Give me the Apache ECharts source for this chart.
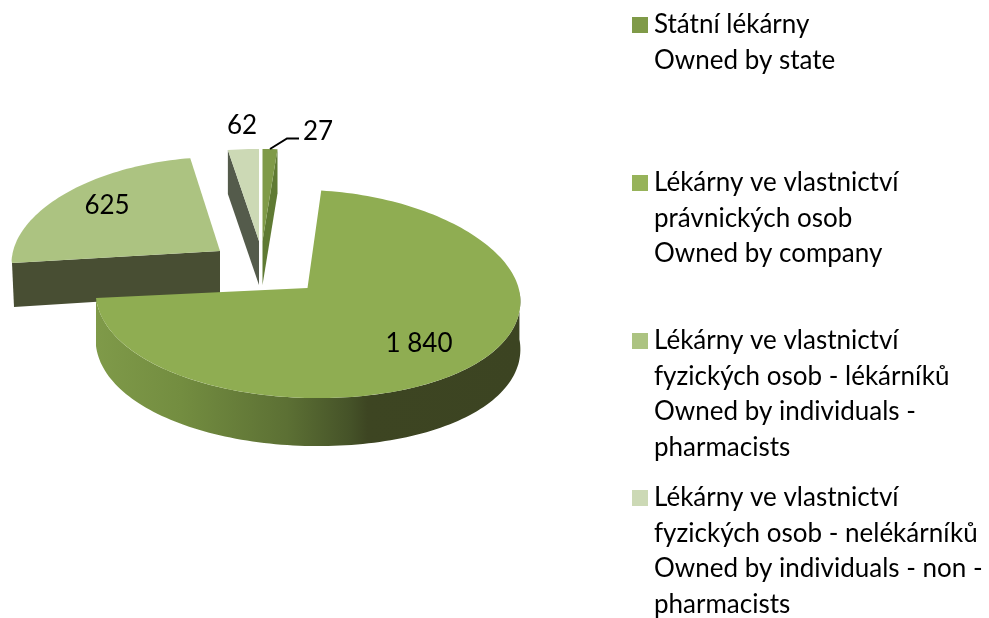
<!DOCTYPE html>
<html>
<head>
<meta charset="utf-8">
<style>html,body{margin:0;padding:0;background:#fff}#c{width:989px;height:618px}</style>
<script src="https://cdn.jsdelivr.net/npm/echarts@6/dist/echarts.min.js"></script>
</head>
<body>
<div id="c"></div>
<script>
var categories = [
  'Státní lékárny\nOwned by state',
  'Lékárny ve vlastnictví\nprávnických osob\nOwned by company',
  'Lékárny ve vlastnictví\nfyzických osob - lékárníků\nOwned by individuals -\npharmacists',
  'Lékárny ve vlastnictví\nfyzických osob - nelékárníků\nOwned by individuals - non -\npharmacists'
];
var values = [27, 1840, 625, 62];
var topColors = ['#7f9a48', '#8fad52', '#acc381', '#ccd9b5'];
var legendColors = ['#7f9a48', '#97b35a', '#acc381', '#ccd9b5'];
var wallColors = ['#5f7a33', '#3d4522', '#484e33', '#545b4b'];

// Exploded slices of the tilted pie: each has its own apex, ellipse and perspective.
var layouts = [
  {ax:262.5, ay:241, cx:262.5, cy:241, rx:226, back:92,  front:92,  k:0,   tilt:0, depth:44, lx:318, ly:131},
  {ax:307.5, ay:288, cx:308,   cy:290, rx:212, back:100, front:108, k:.06, tilt:5, depth:48, lx:419, ly:343},
  {ax:220,   ay:251, cx:220,   cy:257, rx:208, back:100, front:50,  k:.06, tilt:0, depth:43, lx:107, ly:205},
  {ax:259,   ay:241, cx:259,   cy:241, rx:205, back:92,  front:92,  k:0,   tilt:0, depth:44, lx:242, ly:125}
];
var legendCenters = [25, 183, 341, 498];
var LINE = 35.4, FONT = 'Lato', SIZE = 26;
var total = values.reduce(function (a, b) { return a + b; }, 0);

function pt(l, deg) {
  var t = deg * Math.PI / 180, s = Math.sin(t), c = Math.cos(t);
  return [l.cx + l.rx * s * (1 - l.k * c), l.cy - (c > 0 ? l.back : l.front) * c + l.tilt * s];
}
function arc(l, a, b) {
  var out = [], n = Math.max(2, Math.ceil(Math.abs(b - a) / 1.5));
  for (var i = 0; i <= n; i++) out.push(pt(l, a + (b - a) * i / n));
  return out;
}
function down(p, d) { return [p[0], p[1] + d]; }
function fmt(v) { return String(v).replace(/\B(?=(\d{3})+$)/g, ' '); }

var bigWall = {
  type: 'linear', x: 0, y: 0, x2: 1, y2: 0,
  colorStops: [
    {offset: 0, color: '#7f9a49'}, {offset: .2, color: '#738d40'},
    {offset: .45, color: '#5c7034'}, {offset: .6, color: '#455228'},
    {offset: .64, color: '#3d4522'}, {offset: 1, color: '#3c4422'}
  ]
};

function renderSlice(params, api) {
  var i = params.seriesIndex, l = layouts[i], v = api.value(0);
  var before = values.slice(0, i).reduce(function (a, b) { return a + b; }, 0);
  var a0 = before / total * 360, a1 = (before + v) / total * 360;
  var A = [l.ax, l.ay], d = l.depth, rim = arc(l, a0, a1), kids = [];
  function poly(points, fill) {
    kids.push({type: 'polygon', shape: {points: points}, style: {fill: fill}, silent: true});
  }
  if (i === 0) { // wall on the trailing radial edge
    var e = rim[rim.length - 1];
    poly([e, down(e, d), down(A, d), A], wallColors[0]);
  } else if (i === 3) { // wall on the leading radial edge
    var s = rim[0];
    poly([s, down(s, d), down(A, d), A], wallColors[3]);
  } else if (i === 2) { // cut face towards the viewer
    var s2 = rim[0];
    poly([s2, [s2[0] + 2, s2[1] + d + 1], down(A, d), A], wallColors[2]);
  } else { // curved outer wall
    var front = arc(l, Math.max(a0, 88), a1);
    poly(front.concat(front.slice().reverse().map(function (p) { return down(p, d); })), bigWall);
  }
  poly([A].concat(rim), topColors[i]);
  return {type: 'group', children: kids};
}

function renderLabels(params, api) {
  var kids = values.map(function (v, i) {
    return {type: 'text', silent: true, x: layouts[i].lx, y: layouts[i].ly + 1,
      style: {text: fmt(v), font: SIZE + 'px ' + FONT, fill: '#000', align: 'center', verticalAlign: 'middle'}};
  });
  kids.push({type: 'polyline', silent: true,
    shape: {points: [[270, 149], [287, 138.5], [299, 138.5]]},
    style: {stroke: '#000', lineWidth: 2, fill: 'none'}});
  return {type: 'group', children: kids};
}

var seriesList = values.map(function (v, i) {
  return {
    type: 'custom', name: categories[i], coordinateSystem: 'none',
    renderItem: renderSlice, data: [[v]],
    z: [2, 5, 4, 1][i],
    itemStyle: {color: legendColors[i]}, silent: true, animation: false
  };
});
seriesList.push({
  type: 'custom', name: 'labels', coordinateSystem: 'none', renderItem: renderLabels,
  data: [[0]], z: 10, silent: true, animation: false
});

var legends = categories.map(function (name, i) {
  var n = name.split('\n').length;
  return {
    data: [{name: name, icon: 'rect'}],
    left: 632, top: legendCenters[i] - (2 * n - 1) * LINE / 2,
    orient: 'vertical', padding: 0, itemWidth: 16, itemHeight: 16, selectedMode: false,
    formatter: function (t) { return new Array(n).join('\n') + t; },
    textStyle: {fontFamily: FONT, fontSize: SIZE, lineHeight: LINE, color: '#000', padding: [0, 0, 0, 1]}
  };
});

var chart = echarts.init(document.getElementById('c'), null, {renderer: 'canvas'});
chart.setOption({backgroundColor: '#fff', animation: false, legend: legends, series: seriesList});
</script>
</body>
</html>
